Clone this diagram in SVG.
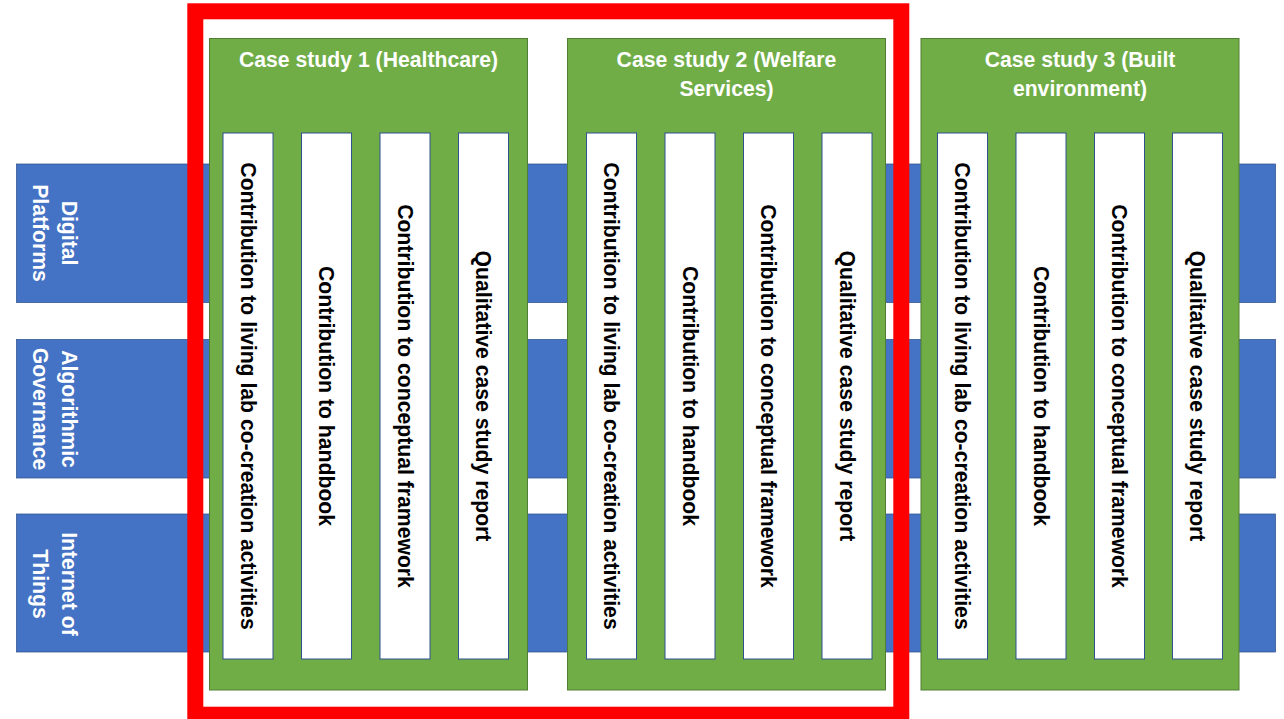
<svg xmlns="http://www.w3.org/2000/svg" width="1284" height="719" viewBox="0 0 1284 719">
<style>
.bar{fill:#4472C4;stroke:#2F528F;stroke-width:0.75}
.case{fill:#70AD47;stroke:#507E32;stroke-width:1}
.box{fill:#FFFFFF;stroke:#2F528F;stroke-width:1}
.t{font-family:"Liberation Sans",Arial,sans-serif;font-weight:bold;font-size:21.2px;text-anchor:middle}
.w{fill:#FFFFFF}
.k{fill:#000000}
.hl{fill:none;stroke:#FF0000;stroke-width:16}
</style>
<rect width="1284" height="719" fill="#FFFFFF"/>
<g id="theme-digital-platforms">
<rect class="bar" x="16.5" y="164" width="1259" height="138.5"/>
<text class="t w" transform="translate(61.5,233) rotate(90)"><tspan x="0" y="0">Digital</tspan><tspan x="0" y="29">Platforms</tspan></text>
</g>
<g id="theme-algorithmic-governance">
<rect class="bar" x="16.5" y="339.5" width="1259" height="138.5"/>
<text class="t w" transform="translate(61.5,409) rotate(90)"><tspan x="0" y="0">Algorithmic</tspan><tspan x="0" y="29">Governance</tspan></text>
</g>
<g id="theme-internet-of-things">
<rect class="bar" x="16.5" y="514" width="1259" height="138"/>
<text class="t w" transform="translate(61.5,584) rotate(90)"><tspan x="0" y="0">Internet of</tspan><tspan x="0" y="29">Things</tspan></text>
</g>
<g id="case-study-1">
<rect class="case" x="209.5" y="38.5" width="318" height="651.5"/>
<text class="t w" x="368.5" y="67">Case study 1 (Healthcare)</text>
<rect class="box" x="223" y="133" width="50" height="526"/>
<text class="t k" transform="translate(240.5,396) rotate(90)">Contribution to living lab co-creation activities</text>
<rect class="box" x="301.5" y="133" width="50" height="526"/>
<text class="t k" transform="translate(319,396) rotate(90)">Contribution to handbook</text>
<rect class="box" x="380" y="133" width="50" height="526"/>
<text class="t k" transform="translate(397.5,396) rotate(90)">Contribution to conceptual framework</text>
<rect class="box" x="458.5" y="133" width="50" height="526"/>
<text class="t k" transform="translate(476,396) rotate(90)">Qualitative case study report</text>
</g>
<g id="case-study-2">
<rect class="case" x="567.5" y="38.5" width="318" height="651.5"/>
<text class="t w" x="726.5" y="67"><tspan x="726.5" y="67">Case study 2 (Welfare</tspan><tspan x="726.5" y="96">Services)</tspan></text>
<rect class="box" x="586.5" y="133" width="50" height="526"/>
<text class="t k" transform="translate(604,396) rotate(90)">Contribution to living lab co-creation activities</text>
<rect class="box" x="665" y="133" width="50" height="526"/>
<text class="t k" transform="translate(682.5,396) rotate(90)">Contribution to handbook</text>
<rect class="box" x="743.5" y="133" width="50" height="526"/>
<text class="t k" transform="translate(761,396) rotate(90)">Contribution to conceptual framework</text>
<rect class="box" x="822" y="133" width="50" height="526"/>
<text class="t k" transform="translate(839.5,396) rotate(90)">Qualitative case study report</text>
</g>
<g id="case-study-3">
<rect class="case" x="921" y="38.5" width="318" height="651.5"/>
<text class="t w"><tspan x="1080" y="67">Case study 3 (Built</tspan><tspan x="1080" y="96">environment)</tspan></text>
<rect class="box" x="937.5" y="133" width="50" height="526"/>
<text class="t k" transform="translate(955,396) rotate(90)">Contribution to living lab co-creation activities</text>
<rect class="box" x="1016" y="133" width="50" height="526"/>
<text class="t k" transform="translate(1033.5,396) rotate(90)">Contribution to handbook</text>
<rect class="box" x="1094.5" y="133" width="50" height="526"/>
<text class="t k" transform="translate(1112,396) rotate(90)">Contribution to conceptual framework</text>
<rect class="box" x="1172.5" y="133" width="50" height="526"/>
<text class="t k" transform="translate(1190,396) rotate(90)">Qualitative case study report</text>
</g>
<g id="highlight-frame">
<rect class="hl" x="195.3" y="11.3" width="706" height="703.4"/>
</g>
<g id="connectors"></g>
</svg>
